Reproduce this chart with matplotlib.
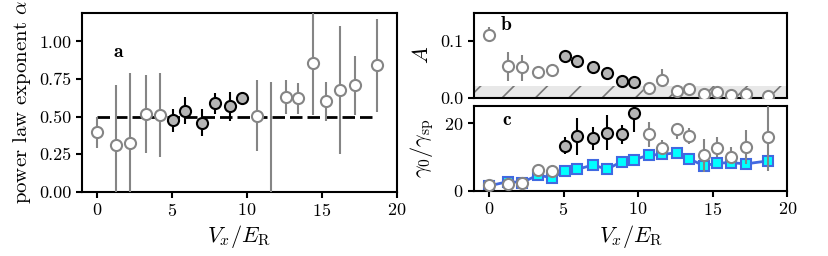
import matplotlib
matplotlib.use('Agg')
import matplotlib.pyplot as plt
import numpy as np

plt.rcParams['font.family'] = 'serif'
plt.rcParams['font.serif'] = ['cmr10']
plt.rcParams['mathtext.fontset'] = 'cm'
plt.rcParams['axes.formatter.use_mathtext'] = True
plt.rcParams['hatch.linewidth'] = 1.2
plt.rcParams['hatch.color'] = '#777777'

# positions V_x / E_R
vx = np.array([0.0, 1.3, 2.2, 3.3, 4.2, 5.1, 5.9, 7.0, 7.9, 8.9, 9.7,
               10.7, 11.6, 12.6, 13.4, 14.4, 15.3, 16.2, 17.2, 18.7])
# which points are the "strong" ones (filled black)
filled = np.array([0, 0, 0, 0, 0, 1, 1, 1, 1, 1, 1,
                   0, 0, 0, 0, 0, 0, 0, 0, 0], dtype=bool)

# panel a: power law exponent
alpha = np.array([0.40, 0.31, 0.325, 0.52, 0.51, 0.476, 0.54, 0.46, 0.587, 0.57, 0.623,
                  0.503, -0.2, 0.632, 0.625, 0.853, 0.603, 0.678, 0.71, 0.842])
alpha_lo = np.array([0.29, 0.0, 0.0, 0.255, 0.23, 0.40, 0.45, 0.37, 0.52, 0.47, 0.59,
                     0.27, -0.2, 0.52, 0.52, 0.51, 0.47, 0.25, 0.51, 0.53])
alpha_hi = np.array([0.50, 0.71, 0.79, 0.776, 0.79, 0.547, 0.627, 0.55, 0.655, 0.66, 0.665,
                     0.74, 0.73, 0.745, 0.72, 1.3, 0.73, 1.10, 0.905, 1.15])

# panel b: amplitude A
amp = np.array([0.111, 0.056, 0.054, 0.046, 0.049, 0.0735, 0.065, 0.055, 0.044, 0.030, 0.028,
                0.018, 0.031, 0.012, 0.015, 0.006, 0.010, 0.005, 0.006, 0.004])
amp_lo = np.array([0.100, 0.030, 0.030, 0.046, 0.049, 0.0735, 0.065, 0.055, 0.044, 0.030, 0.028,
                   0.018, 0.020, 0.012, 0.015, 0.006, 0.010, 0.005, 0.006, 0.004])
amp_hi = np.array([0.125, 0.080, 0.075, 0.046, 0.049, 0.0735, 0.065, 0.055, 0.044, 0.030, 0.028,
                   0.018, 0.050, 0.012, 0.015, 0.006, 0.010, 0.005, 0.006, 0.004])
noise_floor = 0.02

# panel c: gamma_0 / gamma_sp (measured)
gam = np.array([1.8, 2.1, 2.3, 6.2, 6.0, 13.4, 16.3, 15.8, 17.2, 16.9, 23.0,
                16.7, 12.6, 18.2, 16.3, 10.6, 12.8, 10.0, 12.9, 16.1])
gam_lo = np.array([1.8, 2.1, 2.3, 6.2, 6.0, 11.0, 10.5, 12.0, 12.0, 14.0, 17.5,
                   13.1, 10.5, 15.5, 14.0, 5.5, 10.0, 8.0, 8.0, 6.0])
gam_hi = np.array([1.8, 2.1, 2.3, 6.2, 6.0, 16.0, 21.5, 19.0, 22.5, 19.5, 23.0,
                   20.5, 15.0, 20.0, 18.5, 15.5, 16.0, 13.0, 18.0, 27.0])
# theory
gam_th = np.array([1.5, 2.8, 2.5, 4.7, 3.9, 5.9, 6.4, 7.7, 6.4, 8.7, 9.2,
                   10.6, 10.8, 11.3, 9.5, 7.5, 8.2, 8.4, 8.0, 8.9])

GREY = '#858585'
FILLG = '#b5b5b5'


def draw_points(ax, y, lo, hi):
    """Рисует точки с ошибками: открытые серые и заполненные чёрные"""
    for x, v, l, h, f in zip(vx, y, lo, hi, filled):
        ec = 'black' if f else GREY
        fc = FILLG if f else 'white'
        z = 4 if f else 3
        ax.errorbar(x, v, yerr=[[v - l], [h - v]], fmt='o', color=ec, ecolor=ec,
                    elinewidth=1.5, capsize=0, markersize=8, markerfacecolor=fc,
                    markeredgecolor=ec, markeredgewidth=1.5, zorder=z)


fig = plt.figure(figsize=(8.29, 2.56), dpi=100)
ax_a = fig.add_axes([0.0986, 0.251, 0.380, 0.699])
ax_b = fig.add_axes([0.5718, 0.618, 0.378, 0.332])
ax_c = fig.add_axes([0.5718, 0.254, 0.378, 0.333])

# --- a ---
ax_a.plot([vx[0], vx[-1]], [0.5, 0.5], '--', color='black', lw=2, dashes=(4.5, 1.8), zorder=2)
draw_points(ax_a, alpha, alpha_lo, alpha_hi)
ax_a.set_xlim(-1, 20)
ax_a.set_ylim(0, 1.19)
ax_a.set_yticks([0, 0.25, 0.5, 0.75, 1.0])
ax_a.set_yticklabels(['0.00', '0.25', '0.50', '0.75', '1.00'])
ax_a.set_xticks([0, 5, 10, 15, 20])
ax_a.set_ylabel(r'power law exponent $\alpha$', fontsize=15, labelpad=4)
ax_a.set_xlabel(r'$V_x/E_{\rm R}$', fontsize=16, labelpad=3)
ax_a.text(1.1, 0.93, 'a', fontfamily='cmb10', fontsize=14, va='center')

# --- b ---
ax_b.axhspan(0, noise_floor, facecolor='#e8e8e8', edgecolor='#777777', hatch='/',
             lw=0, zorder=1)
draw_points(ax_b, amp, amp_lo, amp_hi)
ax_b.set_xlim(-1, 20)
ax_b.set_ylim(0, 0.15)
ax_b.set_yticks([0.0, 0.1])
ax_b.set_yticklabels(['0.0', '0.1'])
ax_b.set_xticks([])
ax_b.set_ylabel(r'$A$', fontsize=16, labelpad=6)
ax_b.text(0.8, 0.129, 'b', fontfamily='cmb10', fontsize=14, va='center')

# --- c ---
ax_c.plot(vx, gam_th, '-s', color='royalblue', lw=2, markersize=6.5,
          markerfacecolor='cyan', markeredgecolor='royalblue', markeredgewidth=1.5,
          zorder=2)
draw_points(ax_c, gam, gam_lo, gam_hi)
ax_c.set_xlim(-1, 20)
ax_c.set_ylim(0, 25.2)
ax_c.set_yticks([0, 20])
ax_c.set_xticks([0, 5, 10, 15, 20])
ax_c.set_ylabel(r'$\gamma_0/\gamma_{\rm sp}$', fontsize=16, labelpad=6)
ax_c.set_xlabel(r'$V_x/E_{\rm R}$', fontsize=16, labelpad=3)
ax_c.text(0.9, 21.0, 'c', fontfamily='cmb10', fontsize=14, va='center')

for ax in (ax_a, ax_b, ax_c):
    for s in ax.spines.values():
        s.set_linewidth(1.5)
    ax.tick_params(labelsize=13, width=1.5, length=4)

fig.savefig('out.png', dpi=100)
